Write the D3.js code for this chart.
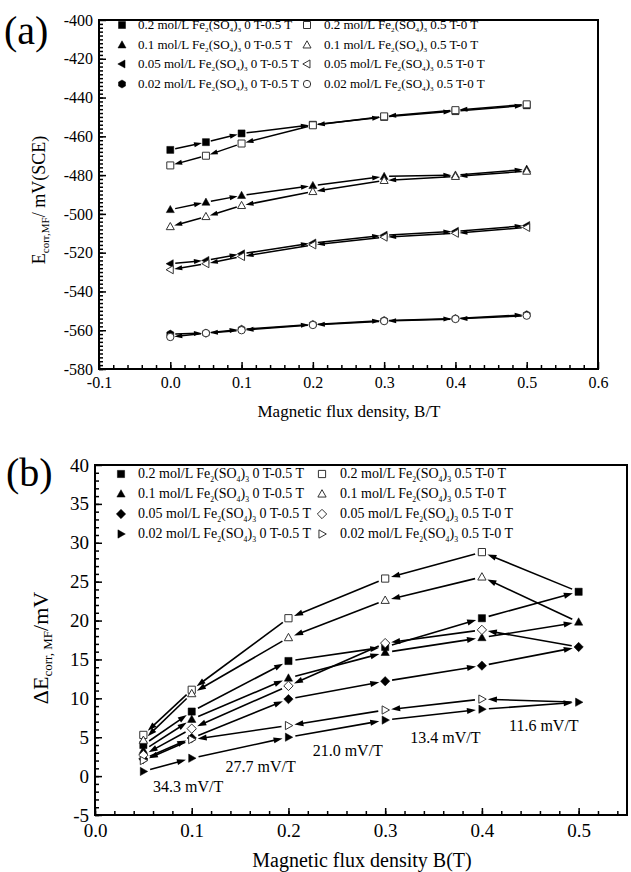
<!DOCTYPE html>
<html>
<head>
<meta charset="utf-8">
<script src="https://cdn.jsdelivr.net/npm/d3@7"></script>
<style>
  body { margin: 0; background: #fff; }
  svg text { font-family: "Liberation Serif", "Times New Roman", serif; fill: #000; }
</style>
</head>
<body>
<svg id="chart" width="631" height="872"></svg>
<script>
// ---- panel (a): corrosion potential vs B ----
const bA = [0, 0.05, 0.1, 0.2, 0.3, 0.4, 0.5];
const eA_02_up   = [-467, -463, -458.5, -454, -450, -447, -444];
const eA_02_down = [-475, -470, -463.7, -454.3, -449.7, -446.5, -443.5];
const eA_01_up   = [-497.8, -494, -490.5, -485.4, -480.7, -480, -477];
const eA_01_down = [-506.6, -501.4, -495.7, -488.5, -482.8, -480.7, -478];
const eA_005_up   = [-525.7, -524, -520.6, -515, -511, -509, -506];
const eA_005_down = [-528.8, -525.7, -522, -516, -512, -510, -507];
const eA_002_up   = [-562, -561.5, -559.5, -557, -555, -554, -552];
const eA_002_down = [-563.5, -561.5, -560, -557.3, -555.3, -554.2, -552.5];

// ---- panel (b): delta E vs B ----
const bB = [0.05, 0.1, 0.2, 0.3, 0.4, 0.5];
const bB_down = [0.05, 0.1, 0.2, 0.3, 0.4];   // return path starts from the 0.5 T filled point
const dB_02_up   = [4.0, 8.3, 14.8, 16.6, 20.3, 23.7];
const dB_02_down = [5.3, 11.1, 20.3, 25.4, 28.8];
const dB_01_up   = [3.3, 7.3, 12.6, 15.9, 17.8, 19.8];
const dB_01_down = [4.6, 10.6, 17.8, 22.6, 25.6];
const dB_005_up   = [2.2, 4.9, 9.9, 12.2, 14.2, 16.6];
const dB_005_down = [2.7, 6.1, 11.6, 17.1, 18.8];
const dB_002_up   = [0.6, 2.3, 5.0, 7.2, 8.6, 9.5];
const dB_002_down = [2.0, 4.7, 6.5, 8.5, 9.9];

const concs = ["0.2", "0.1", "0.05", "0.02"];
const slopeLabels = ["34.3 mV/T", "27.7 mV/T", "21.0 mV/T", "13.4 mV/T", "11.6 mV/T"];
const slopeB = [0.06, 0.135, 0.225, 0.326, 0.428];
const slopeV = [-2.0, 0.5, 2.6, 4.3, 5.8];

const svg = d3.select("#chart");
const serif = '"Liberation Serif", "Times New Roman", serif';

function shapePath(type, s) {
  switch (type) {
    case "square": return `M${-s},${-s}H${s}V${s}H${-s}Z`;
    case "up": return `M0,${-s * 1.2}L${s * 1.15},${s * 0.85}L${-s * 1.15},${s * 0.85}Z`;
    case "left": return `M${-s * 1.2},0L${s * 0.85},${-s * 1.15}L${s * 0.85},${s * 1.15}Z`;
    case "right": return `M${s * 1.2},0L${-s * 0.85},${-s * 1.15}L${-s * 0.85},${s * 1.15}Z`;
    case "diamond": return `M0,${-s * 1.3}L${s * 1.3},0L0,${s * 1.3}L${-s * 1.3},0Z`;
    case "circle": return d3.symbol(d3.symbolCircle, Math.PI * s * s * 1.1)();
    case "hex": {
      const r = s * 1.15;
      return d3.range(6).map((i, k) => {
        const a = Math.PI / 6 + i * Math.PI / 3;
        return (k ? "L" : "M") + (r * Math.cos(a)).toFixed(2) + "," + (r * Math.sin(a)).toFixed(2);
      }).join("") + "Z";
    }
  }
}

function marker(g, x, y, type, filled, s) {
  g.append("path")
    .attr("d", shapePath(type, s))
    .attr("transform", `translate(${x},${y})`)
    .attr("fill", filled ? "#000" : "#fff")
    .attr("stroke", filled ? "#000" : "#333")
    .attr("stroke-width", filled ? 0.5 : 1);
}

function arrow(g, p1, p2, gap1, gap2, hl, hw, lw) {
  const dx = p2[0] - p1[0], dy = p2[1] - p1[1];
  const L = Math.hypot(dx, dy), ux = dx / L, uy = dy / L;
  const sx = p1[0] + ux * gap1, sy = p1[1] + uy * gap1;
  const ex = p2[0] - ux * gap2, ey = p2[1] - uy * gap2;
  const bx = ex - ux * hl, by = ey - uy * hl;
  g.append("line")
    .attr("x1", sx).attr("y1", sy)
    .attr("x2", ex - ux * hl * 0.6).attr("y2", ey - uy * hl * 0.6)
    .attr("stroke", "#000").attr("stroke-width", lw);
  g.append("path")
    .attr("d", `M${ex},${ey}L${bx - uy * hw / 2},${by + ux * hw / 2}L${bx + uy * hw / 2},${by - ux * hw / 2}Z`)
    .attr("fill", "#000");
}

function chemLabel(g, x, y, conc, range, size) {
  const t = g.append("text").attr("x", x).attr("y", y).attr("font-size", size);
  const sub = size * 0.25;
  t.append("tspan").text(`${conc} mol/L Fe`);
  t.append("tspan").attr("dy", sub).attr("font-size", size * 0.55).text("2");
  t.append("tspan").attr("dy", -sub).text("(SO");
  t.append("tspan").attr("dy", sub).attr("font-size", size * 0.55).text("4");
  t.append("tspan").attr("dy", -sub).text(")");
  t.append("tspan").attr("dy", sub).attr("font-size", size * 0.55).text("3");
  t.append("tspan").attr("dy", -sub).text(` ${range}`);
}

// plain hyphen minus like the original plot
const fmt1 = v => d3.format(".1f")(v).replace("−", "-");
const fmt0 = v => d3.format("d")(v).replace("−", "-");

function frameAxes(g, x, y, cfg) {
  const [x0, x1] = x.range(), [y0, y1] = y.range();
  // minor ticks
  g.append("g").attr("transform", `translate(0,${y0})`)
    .call(d3.axisBottom(x).tickValues(cfg.xMinor).tickSize(-cfg.minor).tickFormat(""))
    .call(a => a.select(".domain").remove());
  g.append("g").attr("transform", `translate(${x0},0)`)
    .call(d3.axisLeft(y).tickValues(cfg.yMinor).tickSize(-cfg.minor).tickFormat(""))
    .call(a => a.select(".domain").remove());
  // major ticks + labels
  const xa = g.append("g").attr("transform", `translate(0,${y0})`)
    .call(d3.axisBottom(x).tickValues(cfg.xMajor).tickSize(-cfg.major).tickPadding(cfg.xPad).tickFormat(fmt1));
  const ya = g.append("g").attr("transform", `translate(${x0},0)`)
    .call(d3.axisLeft(y).tickValues(cfg.yMajor).tickSize(-cfg.major).tickPadding(cfg.yPad).tickFormat(fmt0));
  [xa, ya].forEach(a => {
    a.attr("font-family", null);
    a.select(".domain").remove();
    a.selectAll("text").attr("font-size", cfg.font).style("font-family", serif);
  });
  g.selectAll(".tick line").attr("stroke", "#000").attr("stroke-width", 1.5);
  g.append("rect").attr("x", x0).attr("y", y1).attr("width", x1 - x0).attr("height", y0 - y1)
    .attr("fill", "none").attr("stroke", "#000").attr("stroke-width", 2);
}

// =============== panel (a) ===============
const xA = d3.scaleLinear().domain([-0.1, 0.6]).range([99, 598]);
const yA = d3.scaleLinear().domain([-580, -400]).range([369, 20]);
const gA = svg.append("g");
frameAxes(gA, xA, yA, {
  xMajor: d3.range(-0.1, 0.61, 0.1).map(v => +v.toFixed(2)),
  xMinor: d3.range(-0.1, 0.6, 0.02).map(v => +v.toFixed(2)),
  yMajor: d3.range(-580, -399, 20),
  yMinor: d3.range(-580, -400, 2),
  major: 7, minor: 4, xPad: 8, yPad: 6, font: 16
});

const seriesA = [
  { up: eA_02_up, down: eA_02_down, fs: "square", os: "square" },
  { up: eA_01_up, down: eA_01_down, fs: "up", os: "up" },
  { up: eA_005_up, down: eA_005_down, fs: "left", os: "left" },
  { up: eA_002_up, down: eA_002_down, fs: "hex", os: "circle" }
];
const linesA = gA.append("g"), marksA = gA.append("g");
seriesA.forEach(s => {
  const up = bA.map((b, i) => [xA(b), yA(s.up[i])]);
  const dn = bA.map((b, i) => [xA(b), yA(s.down[i])]);
  for (let i = 0; i < up.length - 1; i++) {
    arrow(linesA, up[i], up[i + 1], 5, 4, 8, 5, 1.5);
    arrow(linesA, dn[i + 1], dn[i], 5, 4, 8, 5, 1.5);
  }
});
seriesA.forEach(s => bA.forEach((b, i) => marker(marksA, xA(b), yA(s.up[i]), s.fs, true, 3.5)));
seriesA.forEach(s => bA.forEach((b, i) => marker(marksA, xA(b), yA(s.down[i]), s.os, false, 3.5)));

// legend (a)
const legA = gA.append("g");
const legRowsA = [29, 49, 68, 88];
seriesA.forEach((s, i) => {
  marker(legA, 122, legRowsA[i] - 4, s.fs, true, 3.5);
  chemLabel(legA, 138, legRowsA[i], concs[i], "0 T-0.5 T", 13);
  marker(legA, 307, legRowsA[i] - 4, s.os, false, 3.5);
  chemLabel(legA, 324, legRowsA[i], concs[i], "0.5 T-0 T", 13);
});

gA.append("text").attr("x", 349).attr("y", 417).attr("text-anchor", "middle")
  .attr("font-size", 17).text("Magnetic flux density, B/T");
const ytA = gA.append("text").attr("transform", "translate(45,200) rotate(-90)")
  .attr("text-anchor", "middle").attr("font-size", 18);
ytA.append("tspan").text("E");
ytA.append("tspan").attr("dy", 4).attr("font-size", 11).text("corr,MF");
ytA.append("tspan").attr("dy", -4).text("/ mV(SCE)");
svg.append("text").attr("x", 4).attr("y", 44).attr("font-size", 40).text("(a)");

// =============== panel (b) ===============
const xB = d3.scaleLinear().domain([0, 0.55]).range([95, 627]);
const yB = d3.scaleLinear().domain([-5, 40]).range([815, 465]);
const gB = svg.append("g");
frameAxes(gB, xB, yB, {
  xMajor: d3.range(0, 0.51, 0.1).map(v => +v.toFixed(2)),
  xMinor: d3.range(0, 0.55, 0.02).map(v => +v.toFixed(2)),
  yMajor: d3.range(-5, 41, 5),
  yMinor: d3.range(-5, 40, 1),
  major: 7, minor: 4, xPad: 9, yPad: 6, font: 19
});

const seriesB = [
  { up: dB_02_up, down: dB_02_down, fs: "square", os: "square" },
  { up: dB_01_up, down: dB_01_down, fs: "up", os: "up" },
  { up: dB_005_up, down: dB_005_down, fs: "diamond", os: "diamond" },
  { up: dB_002_up, down: dB_002_down, fs: "right", os: "right" }
];
const linesB = gB.append("g"), marksB = gB.append("g");
seriesB.forEach(s => {
  const up = bB.map((b, i) => [xB(b), yB(s.up[i])]);
  const back = [up[up.length - 1]].concat(bB_down.map((b, i) => [xB(b), yB(s.down[i])]).reverse());
  for (let i = 0; i < up.length - 1; i++) arrow(linesB, up[i], up[i + 1], 7, 6, 9, 6, 1.6);
  for (let i = 0; i < back.length - 1; i++) arrow(linesB, back[i], back[i + 1], 7, 6, 9, 6, 1.6);
});
seriesB.forEach(s => bB.forEach((b, i) => marker(marksB, xB(b), yB(s.up[i]), s.fs, true, 3.6)));
seriesB.forEach(s => bB_down.forEach((b, i) => marker(marksB, xB(b), yB(s.down[i]), s.os, false, 3.6)));

slopeLabels.forEach((t, i) => {
  gB.append("text").attr("x", xB(slopeB[i])).attr("y", yB(slopeV[i]))
    .attr("font-size", 16).text(t);
});

// legend (b)
const legB = gB.append("g");
const legRowsB = [478, 498, 518, 538];
seriesB.forEach((s, i) => {
  marker(legB, 121, legRowsB[i] - 4, s.fs, true, 3.6);
  chemLabel(legB, 138, legRowsB[i], concs[i], "0 T-0.5 T", 14);
  marker(legB, 322, legRowsB[i] - 4, s.os, false, 3.6);
  chemLabel(legB, 340, legRowsB[i], concs[i], "0.5 T-0 T", 14);
});

gB.append("text").attr("x", 362).attr("y", 867).attr("text-anchor", "middle")
  .attr("font-size", 20).text("Magnetic flux density B(T)");
const ytB = gB.append("text").attr("transform", "translate(48,648) rotate(-90)")
  .attr("text-anchor", "middle").attr("font-size", 22);
ytB.append("tspan").text("ΔE");
ytB.append("tspan").attr("dy", 4).attr("font-size", 13).text("corr, MF");
ytB.append("tspan").attr("dy", -4).text("/mV");
svg.append("text").attr("x", 6).attr("y", 486).attr("font-size", 40).text("(b)");
</script>
</body>
</html>
